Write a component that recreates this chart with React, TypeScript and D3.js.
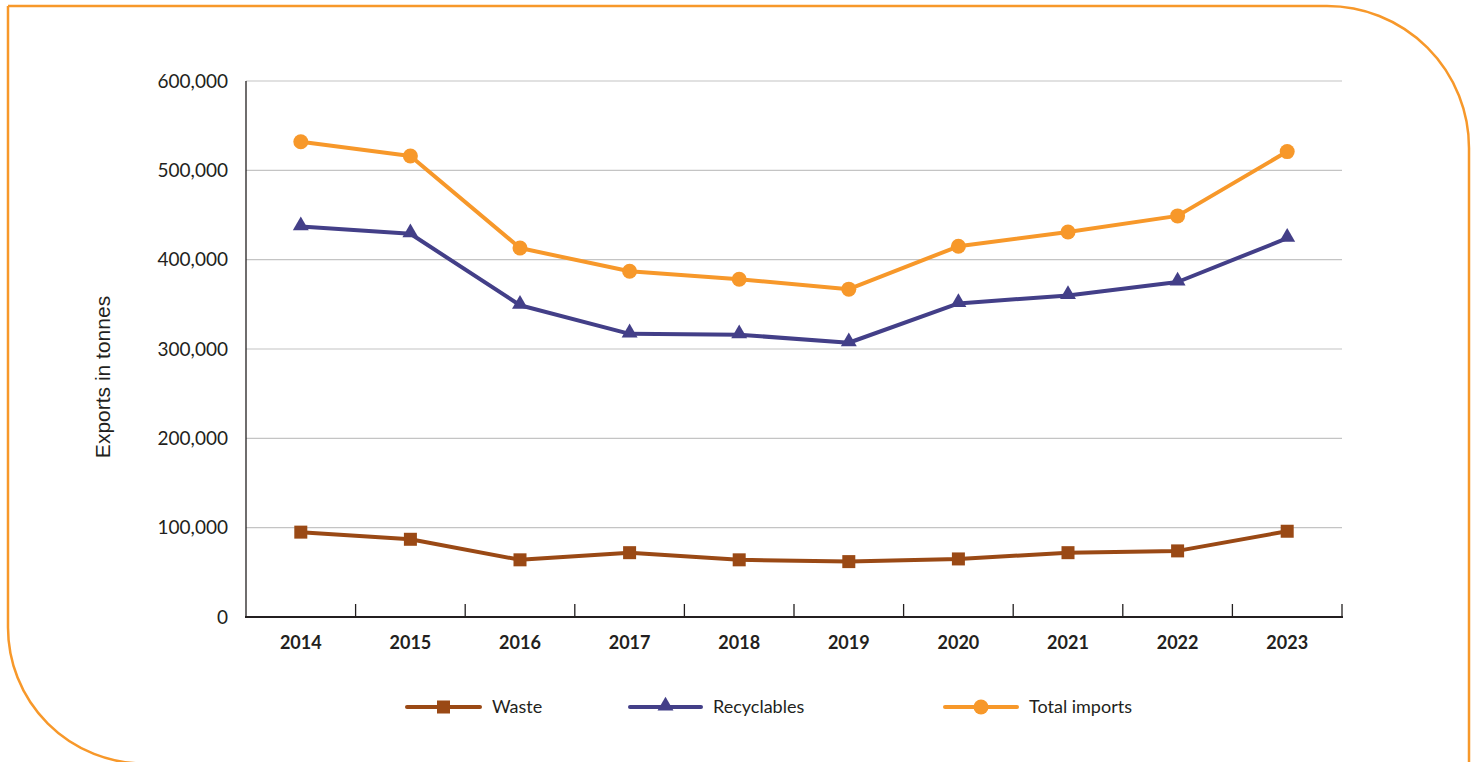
import React from "react";
import * as d3 from "d3";

const years = ["2014", "2015", "2016", "2017", "2018", "2019", "2020", "2021", "2022", "2023"];
const waste = [95000, 87000, 64000, 72000, 64000, 62000, 65000, 72000, 74000, 96000];
const recyclables = [437000, 429000, 349000, 317000, 316000, 307000, 351000, 360000, 375000, 424000];
const totalImports = [532000, 516000, 413000, 387000, 378000, 367000, 415000, 431000, 449000, 521000];
const yTicks = [0, 100000, 200000, 300000, 400000, 500000, 600000];
const seriesNames = ["Waste", "Recyclables", "Total imports"];

const W = 1477, H = 762;
const FONT = "Lato, 'Open Sans', sans-serif";
const ORANGE = "#f7982a";
const BLUE = "#433f88";
const BROWN = "#9a4915";

export default function App() {
  const x = d3.scaleBand<string>().domain(years).range([246, 1342]).padding(0);
  const y = d3.scaleLinear().domain([0, 600000]).range([617, 81]);
  const cx = (i: number) => (x(years[i]) as number) + x.bandwidth() / 2;
  const line = d3.line<number>().x((_, i) => cx(i)).y((d) => y(d));
  const fmt = d3.format(",");

  const series = [
    { name: seriesNames[0], data: waste, color: BROWN, marker: "square" },
    { name: seriesNames[1], data: recyclables, color: BLUE, marker: "triangle" },
    { name: seriesNames[2], data: totalImports, color: ORANGE, marker: "circle" },
  ];

  const marker = (type: string, px: number, py: number, color: string, key: any) => {
    if (type === "square") return <rect key={key} x={px - 6.5} y={py - 6.5} width={13} height={13} fill={color} />;
    if (type === "circle") return <circle key={key} cx={px} cy={py} r={7.5} fill={color} />;
    const tri = d3.symbol().type(d3.symbolTriangle).size(110)();
    return <path key={key} d={tri as string} transform={`translate(${px},${py - 1})`} fill={color} />;
  };

  const r1 = 142, r2 = 136;
  const L = 8, T = 6, R = 1469, B = 763.5;
  const border = `M${L},${T} L${R - r1},${T} A${r1},${r1} 0 0 1 ${R},${T + r1} L${R},${B + 20} M${L},${T} L${L},${B - r2} A${r2},${r2} 0 0 0 ${L + r2},${B} L${R},${B}`;

  const legendItems = [
    { x1: 407, x2: 480, tx: 492 },
    { x1: 630, x2: 701, tx: 713 },
    { x1: 945, x2: 1017, tx: 1029 },
  ];
  const ly = 707;

  return (
    <svg width={W} height={H} style={{ position: "absolute", left: 0, top: 0, background: "#fff" }} fontFamily={FONT}>
      <path d={border} fill="none" stroke={ORANGE} strokeWidth={2.5} />
      {yTicks.filter((t) => t > 0).map((t) => (
        <line key={t} x1={246} x2={1342} y1={y(t)} y2={y(t)} stroke="#c4c4c4" strokeWidth={1.2} />
      ))}
      {yTicks.map((t) => (
        <text key={"l" + t} x={228} y={y(t)} dy="0.35em" textAnchor="end" fontSize={19} fill="#231f20">
          {fmt(t)}
        </text>
      ))}
      <line x1={246} x2={246} y1={81} y2={617} stroke="#231f20" strokeWidth={1.3} />
      {years.map((yr) => (
        <line key={"t" + yr} x1={(x(yr) as number) + x.bandwidth()} x2={(x(yr) as number) + x.bandwidth()} y1={617} y2={604} stroke="#231f20" strokeWidth={1.3} />
      ))}
      <line x1={245} x2={1343} y1={617} y2={617} stroke="#231f20" strokeWidth={2.2} />
      {years.map((yr, i) => (
        <text key={"x" + yr} x={cx(i)} y={649} textAnchor="middle" fontSize={18} fontWeight={700} fill="#231f20">
          {yr}
        </text>
      ))}
      <text transform="translate(110,377) rotate(-90)" textAnchor="middle" fontSize={21} fontFamily="'Liberation Sans', Arial, sans-serif" fill="#231f20">
        Exports in tonnes
      </text>
      {series.map((s) => (
        <g key={s.name}>
          <path d={line(s.data) as string} fill="none" stroke={s.color} strokeWidth={4} strokeLinejoin="round" />
          {s.data.map((v, i) => marker(s.marker, cx(i), y(v), s.color, i))}
        </g>
      ))}
      {series.map((s, k) => (
        <g key={"lg" + s.name}>
          <line x1={legendItems[k].x1} x2={legendItems[k].x2} y1={ly} y2={ly} stroke={s.color} strokeWidth={4} strokeLinecap="round" />
          {marker(s.marker, (legendItems[k].x1 + legendItems[k].x2) / 2, ly, s.color, "m")}
          <text x={legendItems[k].tx} y={ly} dy="0.35em" fontSize={18} fill="#231f20">
            {s.name}
          </text>
        </g>
      ))}
    </svg>
  );
}
